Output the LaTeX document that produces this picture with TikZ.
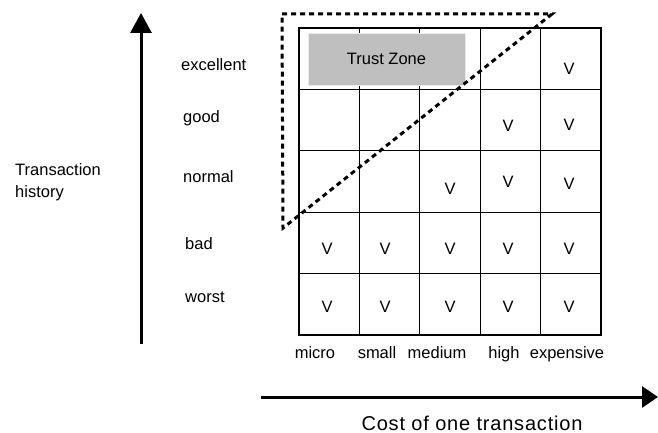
\documentclass[tikz,border=0pt]{standalone}
\usepackage{fontspec}
\setmainfont{Liberation Sans}
\usetikzlibrary{arrows.meta}
\begin{document}
\begin{tikzpicture}[x=1pt,y=-1pt,
  lbl/.style={font=\fontsize{16.5}{22}\selectfont, inner sep=0pt, text height=12pt, text depth=3.5pt},
  gridline/.style={line width=1.3pt, black},
  axis/.style={line width=3pt, -{Triangle[length=20pt,width=21pt]}},
  zonebox/.style={fill=gray!50, draw=gray!15, line width=0.8pt, minimum width=157pt, minimum height=52pt, inner sep=0pt, font=\fontsize{16.5}{22}\selectfont},
  trustline/.style={line width=3pt, dash pattern=on 5pt off 4pt}]
\useasboundingbox (0,0) rectangle (658,433);
% grid
\draw[gridline] (299,28) rectangle (601,335);
\foreach \i in {1,2,3,4}{
  \draw[gridline] ({299+60.4*\i},28) -- ({299+60.4*\i},335);
  \draw[gridline] (299,{28+61.4*\i}) -- (601,{28+61.4*\i});
}
% trust zone box
\node[zonebox] (tz) at (386.5,59) {Trust Zone};
% V marks
\node[lbl] (v15) at (569,70) {V};
\node[lbl] (v24) at (508,127) {V};
\node[lbl] (v25) at (569,126) {V};
\node[lbl] (v33) at (450,190) {V};
\node[lbl] (v34) at (508,183) {V};
\node[lbl] (v35) at (569,185) {V};
\foreach \x/\n in {327/1,385/2,450/3,508/4,569/5}{
  \node[lbl] (v4\n) at (\x,250) {V};
  \node[lbl] (v5\n) at (\x,308) {V};
}
% dotted trust region
\coordinate (d1) at (282,14);
\coordinate (d2) at (552,14);
\coordinate (d3) at (283,228);
\draw[trustline] (d1) -- (d2) -- (d3) -- cycle;
% row labels
\node[lbl, anchor=west] (rex) at (181,66) {excellent};
\node[lbl, anchor=west] (rgo) at (183,118) {good};
\node[lbl, anchor=west] (rno) at (183,178) {normal};
\node[lbl, anchor=west] (rba) at (185,245) {bad};
\node[lbl, anchor=west] (rwo) at (185,298) {worst};
% column labels
\node[lbl] (cmi) at (315,354) {micro};
\node[lbl] (csm) at (377,354) {small};
\node[lbl] (cme) at (437,354) {medium};
\node[lbl] (chi) at (504,354) {high};
\node[lbl] (cex) at (567,354) {expensive};
% axes
\coordinate (ya0) at (141,344);
\coordinate (ya1) at (141,13);
\draw[axis] (ya0) -- (ya1);
\coordinate (xa0) at (261,397);
\coordinate (xa1) at (658,397);
\draw[line width=3pt, -{Triangle[length=16pt,width=21pt]}] (xa0) -- (xa1);
\node[lbl, anchor=west, align=left, text height=, text depth=] (th) at (15,182) {Transaction\\history};
\node[inner sep=0pt, font=\fontsize{20}{22}\selectfont\addfontfeature{LetterSpace=4}] (cost) at (472,423) {Cost of one transaction};
\end{tikzpicture}
\end{document}
